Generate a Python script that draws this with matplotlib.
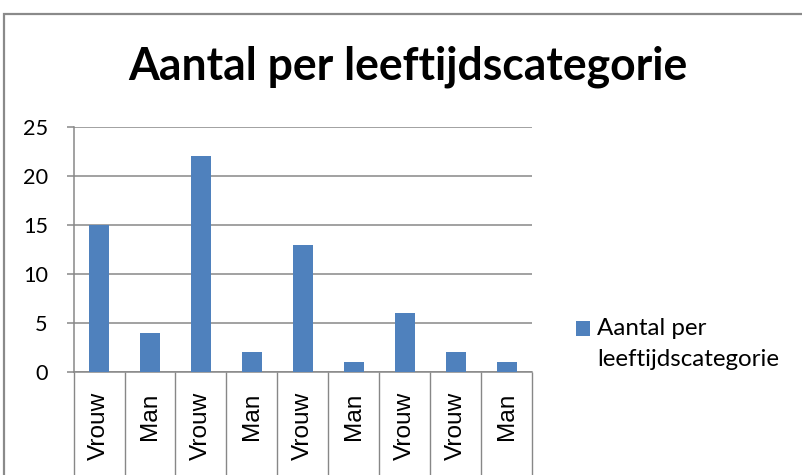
import matplotlib
matplotlib.use("Agg")
import matplotlib.pyplot as plt
from matplotlib.patches import Rectangle

# ---- data ----
categories = ["Vrouw", "Man", "Vrouw", "Man", "Vrouw", "Man", "Vrouw", "Vrouw", "Man"]
values = [15, 4, 22, 2, 13, 1, 6, 2, 1]
yticks = [0, 5, 10, 15, 20, 25]
title = "Aantal per leeftijdscategorie"
series_label = "Aantal per\nleeftijdscategorie"

W, H = 803, 475
fig = plt.figure(figsize=(W / 100, H / 100), dpi=100)
renderer = fig.canvas.get_renderer()

CAL = ["Lato", "DejaVu Sans"]
ARI = ["Liberation Sans", "DejaVu Sans"]


def fit_size(text, family, weight, target_px, base=20.0):
    t = fig.text(0, 0, text, fontsize=base, family=family, weight=weight)
    w = t.get_window_extent(renderer).width
    t.remove()
    return base * target_px / w


title_fs = fit_size(title, CAL, "bold", 561)
ytick_fs = fit_size("25", CAL, "normal", 25)
xtick_fs = fit_size("Vrouw", ARI, "normal", 68)
leg_fs = fit_size("leeftijdscategorie", CAL, "normal", 183)

gray = "#878787"
blue = "#4F81BD"

# axes in pixel layout
x0, x1 = 73.5, 532.5
ytop, ybot = 127, 372
ax = fig.add_axes([x0 / W, (H - ybot) / H, (x1 - x0) / W, (ybot - ytop) / H])

xs = list(range(len(categories)))
bars = ax.bar(xs, values, width=0.39, color=blue, zorder=3)
ax.set_xlim(-0.5, len(categories) - 0.5)
ax.set_ylim(0, 25)
ax.set_yticks(yticks)
ax.set_yticklabels([str(v) for v in yticks], fontsize=ytick_fs, family=CAL)
ax.yaxis.grid(True, color=gray, linewidth=1.1, zorder=0)
ax.set_axisbelow(True)

ax.set_xticks(xs)
ax.set_xticklabels(categories, rotation=90, fontsize=xtick_fs, family=ARI)
ax.set_xticks([i - 0.5 for i in range(len(categories) + 1)], minor=True)
ax.tick_params(axis="x", which="major", length=0, pad=14.5)
ax.tick_params(axis="x", which="minor", length=80, width=1.0, color=gray, direction="out")
ax.tick_params(axis="y", which="major", length=5, width=1.1, color=gray, direction="out", pad=13.5)

for s in ["top", "right"]:
    ax.spines[s].set_visible(False)
for s in ["left", "bottom"]:
    ax.spines[s].set_color(gray)
    ax.spines[s].set_linewidth(1.1)

# title
fig.text(407.5 / W, (H - 80) / H, title, fontsize=title_fs, family=CAL,
         weight="bold", ha="center", va="baseline")

# legend
handle_px = 14.5
gap_px = 7.0
anchor = [573 / W, (H - 318) / H]
leg = ax.legend([bars[0]], [series_label], loc="upper left",
                bbox_to_anchor=tuple(anchor), bbox_transform=fig.transFigure,
                frameon=False, prop={"family": CAL, "size": leg_fs},
                handlelength=handle_px * 0.72 / leg_fs,
                handleheight=handle_px * 0.72 / leg_fs,
                handletextpad=gap_px * 0.72 / leg_fs,
                borderpad=0, borderaxespad=0)
txt = leg.get_texts()[0]
txt.set_linespacing(1.6)

# place legend text: left edge at x=597, first baseline at y=335 (pixels from top)
fig.canvas.draw()
bb = txt.get_window_extent(renderer)
h, w_, d = None, None, None
w_, h, d = renderer.get_text_width_height_descent("lp", txt.get_fontproperties(), ismath=False)
base1 = bb.y1 - (h - d)
dx = 597 - bb.x0
dy = (H - 335) - base1
anchor = [anchor[0] + dx / W, anchor[1] + dy / H]
leg.set_bbox_to_anchor(tuple(anchor), transform=fig.transFigure)

# align the legend square with the first text line
fig.canvas.draw()
hp = leg.legend_handles[0]
hb = hp.get_window_extent(renderer)
cur_c = (hb.y0 + hb.y1) / 2
want_c = H - 328.5
hp.set_y(hp.get_y() + (want_c - cur_c) * 72 / 100)

# chart border
fig.patches.append(Rectangle((4.5 / W, -0.2), 2.0, (H - 13.5) / H + 0.2,
                             transform=fig.transFigure, fill=False,
                             edgecolor="#8a8a8a", linewidth=1.6))

fig.savefig("out.png", dpi=100)
